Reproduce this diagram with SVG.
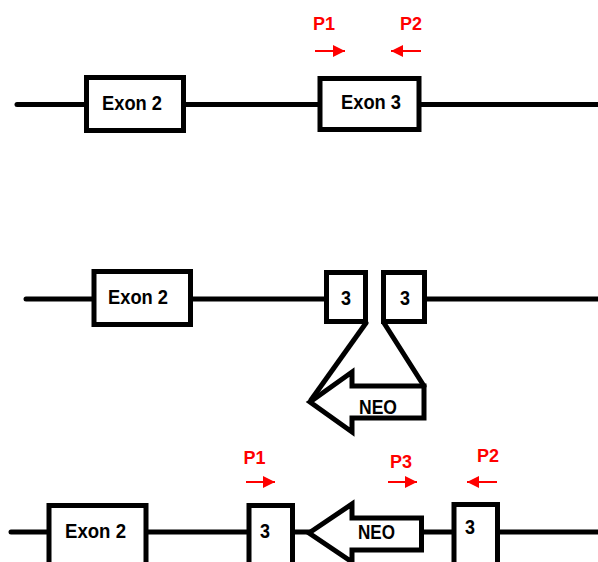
<svg xmlns="http://www.w3.org/2000/svg" width="598" height="562" viewBox="0 0 598 562">
  <style>
    .ln{stroke:#000;stroke-width:5;fill:none;stroke-linecap:round}
    .bx{fill:#fff;stroke:#000;stroke-width:5}
    .neo{fill:#fff;stroke:#000;stroke-width:5;stroke-linejoin:miter}
    .t{font-family:"Liberation Sans",Arial,sans-serif;font-weight:bold;font-size:21px;fill:#000;text-anchor:middle}
    .p{font-family:"Liberation Sans",Arial,sans-serif;font-weight:bold;font-size:18px;fill:#ff0000;text-anchor:middle}
    .pa{stroke:#ff0000;stroke-width:2;fill:none}
  </style>
  <defs>
    <marker id="rh" markerUnits="userSpaceOnUse" markerWidth="13" markerHeight="13" refX="12" refY="6" orient="auto">
      <path d="M0,0 L12,6 L0,12 Z" fill="#ff0000"/>
    </marker>
  </defs>
  <rect width="598" height="562" fill="#fff"/>

  <g id="connectors">
    <!-- row 1 -->
    <line class="ln" x1="17" y1="104.5" x2="600" y2="104.5"/>
    <!-- row 2 -->
    <line class="ln" x1="26" y1="299" x2="326" y2="299"/>
    <line class="ln" x1="425" y1="299" x2="600" y2="299"/>
    <line class="ln" x1="366" y1="323" x2="311" y2="400"/>
    <line class="ln" x1="384" y1="323" x2="424" y2="386"/>
    <!-- row 3 -->
    <line class="ln" x1="11" y1="532" x2="600" y2="532"/>
    <!-- primer arrows -->
    <line class="pa" x1="315" y1="51" x2="345" y2="51" marker-end="url(#rh)"/>
    <line class="pa" x1="421" y1="51" x2="391" y2="51" marker-end="url(#rh)"/>
    <line class="pa" x1="246" y1="482" x2="275" y2="482" marker-end="url(#rh)"/>
    <line class="pa" x1="388" y1="482" x2="417" y2="482" marker-end="url(#rh)"/>
    <line class="pa" x1="497" y1="482" x2="467" y2="482" marker-end="url(#rh)"/>
  </g>

  <!-- Row 1 -->
  <g id="r1-exon2">
    <rect class="bx" x="86.5" y="77.5" width="97" height="53"/>
    <text class="t" x="132" y="110" textLength="60" lengthAdjust="spacingAndGlyphs">Exon 2</text>
  </g>
  <g id="r1-exon3">
    <rect class="bx" x="320" y="78.5" width="99" height="51"/>
    <text class="t" x="371" y="109" textLength="60" lengthAdjust="spacingAndGlyphs">Exon 3</text>
  </g>
  <g id="r1-p1"><text class="p" x="324" y="30">P1</text></g>
  <g id="r1-p2"><text class="p" x="411" y="30">P2</text></g>

  <!-- Row 2 -->
  <g id="r2-exon2">
    <rect class="bx" x="94" y="271.5" width="96.5" height="53"/>
    <text class="t" x="138" y="304" textLength="60" lengthAdjust="spacingAndGlyphs">Exon 2</text>
  </g>
  <g id="r2-exon3a">
    <rect class="bx" x="326.5" y="272.5" width="39" height="49"/>
    <text class="t" x="346" y="305" textLength="10" lengthAdjust="spacingAndGlyphs">3</text>
  </g>
  <g id="r2-exon3b">
    <rect class="bx" x="383.5" y="272.5" width="41" height="49"/>
    <text class="t" x="405" y="305" textLength="10" lengthAdjust="spacingAndGlyphs">3</text>
  </g>
  <g id="r2-neo">
    <polygon class="neo" points="310,402 352,372 352,386 424,386 424,418 352,418 352,432"/>
    <text class="t" x="378" y="414" textLength="38" lengthAdjust="spacingAndGlyphs">NEO</text>
  </g>

  <!-- Row 3 -->
  <g id="r3-exon2">
    <rect class="bx" x="49" y="505.5" width="97" height="70"/>
    <text class="t" x="95.5" y="538" textLength="61" lengthAdjust="spacingAndGlyphs">Exon 2</text>
  </g>
  <g id="r3-exon3a">
    <rect class="bx" x="249" y="505.5" width="43.5" height="70"/>
    <text class="t" x="265" y="538" textLength="10" lengthAdjust="spacingAndGlyphs">3</text>
  </g>
  <g id="r3-neo">
    <polygon class="neo" points="309,533 352,504 352,518 421.5,518 421.5,550 352,550 352,562"/>
    <text class="t" x="376.5" y="539" textLength="37" lengthAdjust="spacingAndGlyphs">NEO</text>
  </g>
  <g id="r3-exon3b">
    <rect class="bx" x="454" y="504.5" width="43.5" height="70"/>
    <text class="t" x="470" y="534" textLength="10" lengthAdjust="spacingAndGlyphs">3</text>
  </g>
  <g id="r3-p1"><text class="p" x="254.5" y="464">P1</text></g>
  <g id="r3-p3"><text class="p" x="401" y="468">P3</text></g>
  <g id="r3-p2"><text class="p" x="488" y="462">P2</text></g>
</svg>
